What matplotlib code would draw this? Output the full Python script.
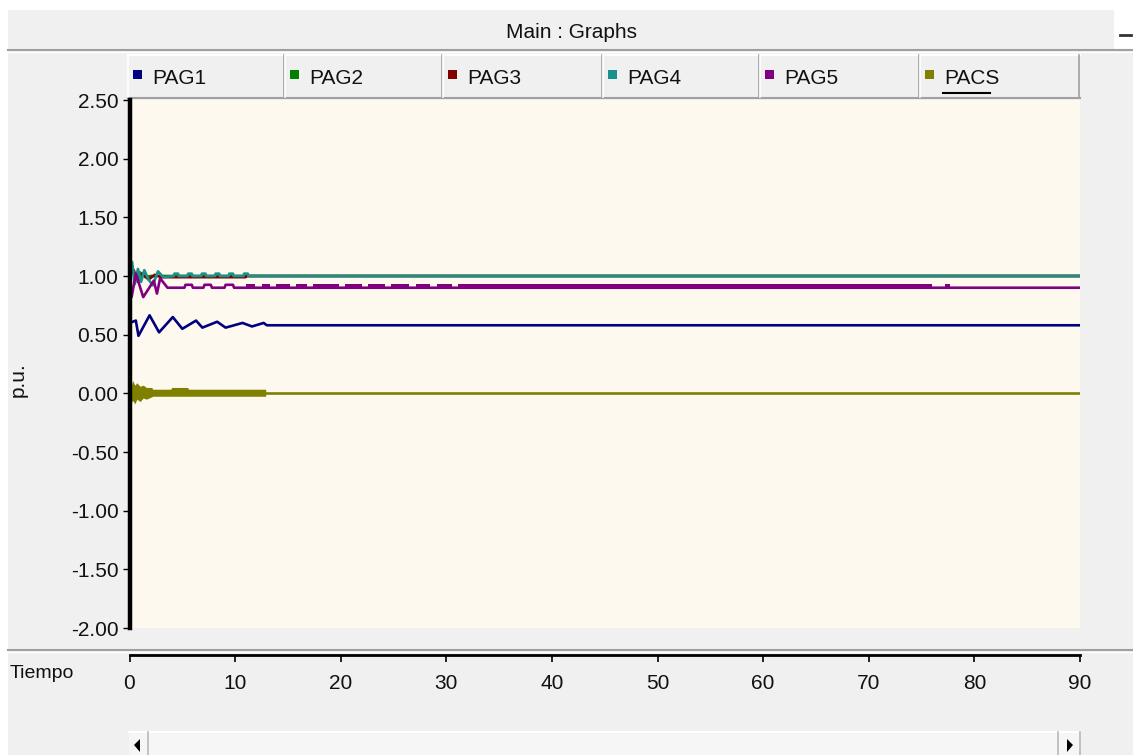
import numpy as np
import matplotlib.pyplot as plt
from matplotlib.patches import Rectangle, Polygon

plt.rcParams['font.family'] = ['Liberation Sans', 'DejaVu Sans']

names = ['PAG1', 'PAG2', 'PAG3', 'PAG4', 'PAG5', 'PACS']
colors = ['#000080', '#008000', '#800000', '#1b918c', '#800080', '#808000']

# series (time in s, value in p.u.)
t_pag1 = [0, 0.6, 0.85, 1.9, 2.8, 4.1, 5.0, 6.3, 6.9, 8.3, 9.1, 10.7, 11.6, 12.7, 13.0, 90]
pag1 = [0.60, 0.62, 0.49, 0.665, 0.52, 0.65, 0.55, 0.62, 0.56, 0.61, 0.56, 0.60, 0.57, 0.60, 0.58, 0.58]

t_pag2 = [0, 0.3, 0.6, 1.0, 1.5, 2.0, 90]
pag2 = [1.0, 1.06, 0.96, 1.03, 0.99, 1.0, 1.0]

t_pag3 = [0, 0.4, 0.8, 1.2, 1.8, 2.4, 3.0, 11.0, 11.1, 90]
pag3 = [1.0, 1.05, 0.95, 1.02, 0.97, 1.01, 0.99, 0.99, 1.0, 1.0]

t_pag4 = [0, 0.25, 0.5, 0.8, 1.1, 1.4, 1.8, 2.2, 2.7, 3.2,
          4.2, 4.25, 4.6, 4.65, 5.5, 5.55, 5.9, 5.95, 6.8, 6.85, 7.2, 7.25,
          8.1, 8.15, 8.5, 8.55, 9.4, 9.45, 9.8, 9.85, 10.8, 10.85, 11.2, 11.25, 90]
pag4 = [1.0, 1.12, 0.93, 1.06, 0.95, 1.05, 0.97, 0.92, 1.04, 0.99,
        1.0, 1.02, 1.02, 1.0, 1.0, 1.02, 1.02, 1.0, 1.0, 1.02, 1.02, 1.0,
        1.0, 1.02, 1.02, 1.0, 1.0, 1.02, 1.02, 1.0, 1.0, 1.02, 1.02, 1.0, 1.0]

t_pag5 = [0, 0.2, 0.6, 1.3, 2.3, 2.6, 2.9, 3.6, 5.2, 5.3, 5.9, 6.0, 7.0, 7.1,
          7.7, 7.8, 9.0, 9.1, 9.8, 9.9, 90]
pag5 = [0.88, 0.82, 1.02, 0.82, 0.96, 0.85, 0.98, 0.90, 0.90, 0.925, 0.925, 0.90, 0.90, 0.925,
        0.925, 0.90, 0.90, 0.925, 0.925, 0.90, 0.90]
# fast ripple intervals of PAG5 (upper level)
pag5_ripple = [(11.0, 11.9), (12.5, 13.3), (13.9, 15.2), (15.8, 16.8), (17.4, 19.8),
               (20.4, 22.0), (22.6, 24.2), (24.8, 26.5), (27.1, 28.5), (29.1, 30.5),
               (31.1, 76.0), (77.2, 77.7)]
pag5_ripple_lo, pag5_ripple_hi = 0.90, 0.928

t_pacs = [0, 90]
pacs = [0.005, 0.005]
# envelope of the PACS oscillation
pacs_env_t = [0, 0.15, 0.3, 0.5, 0.7, 1.0, 1.3, 1.6, 2.1, 2.2, 3.9, 4.0, 5.5, 5.6, 12.9]
pacs_env_hi = [0.10, 0.06, 0.11, 0.07, 0.09, 0.06, 0.07, 0.05, 0.05, 0.035, 0.035, 0.05, 0.05, 0.035, 0.035]
pacs_env_lo = [-0.02, -0.08, -0.06, -0.09, -0.05, -0.07, -0.04, -0.05, -0.03, -0.025, -0.025,
               -0.025, -0.025, -0.025, -0.025]

yticks = [2.5, 2.0, 1.5, 1.0, 0.5, 0.0, -0.5, -1.0, -1.5, -2.0]
xticks = [0, 10, 20, 30, 40, 50, 60, 70, 80, 90]

W, H = 1133, 755
GRAY = '#f0f0f0'
CREAM = '#fef9ef'
FS = 15
INK = '#111111'

fig = plt.figure(figsize=(W / 100, H / 100), dpi=100, facecolor='white')

# window chrome drawn in pixel coordinates
bg = fig.add_axes([0, 0, 1, 1], zorder=0)
bg.set_xlim(0, W)
bg.set_ylim(H, 0)
bg.axis('off')
bg.add_patch(Rectangle((8, 10), W - 8, H - 10, fc=GRAY, ec='none'))
bg.add_patch(Rectangle((1114, 0), W - 1114, 50, fc='white', ec='none'))
bg.plot([1120, 1131], [35, 35], color='#333333', lw=2)
bg.plot([8, W], [50, 50], color='#a0a0a0', lw=1.5)
bg.plot([8, W], [51.5, 51.5], color='white', lw=1)
bg.text(572, 32, 'Main : Graphs', ha='center', va='center', fontsize=FS, color=INK)

# legend header cells
edges = [128, 285, 443, 603, 760, 920, 1080]
bg.plot([128, 1080], [55, 55], color='white', lw=1.5)
bg.plot([128, 1080], [97.5, 97.5], color='#a0a0a0', lw=1.5)
for i, (name, c) in enumerate(zip(names, colors)):
    x0 = edges[i]
    bg.plot([x0, x0], [55, 97], color='white', lw=1.2)
    bg.plot([edges[i + 1] - 1, edges[i + 1] - 1], [55, 97], color='#a0a0a0', lw=1.2)
    bg.add_patch(Rectangle((x0 + 5, 70), 9, 9, fc=c, ec='none'))
    bg.text(x0 + 24, 78, name, ha='left', va='center', fontsize=FS, color=INK)
    if name == 'PACS':
        bg.plot([x0 + 23, x0 + 70], [93, 93], color='black', lw=1.5)

# separator above the time axis
bg.plot([8, W], [650, 650], color='#a0a0a0', lw=1.5)
bg.plot([8, W], [651.5, 651.5], color='white', lw=1)
bg.text(10, 673, 'Tiempo', ha='left', va='center', fontsize=FS - 1, color=INK)
bg.text(18, 380, 'p.u.', ha='center', va='center', rotation=90, fontsize=FS, color=INK)

# scroll bar
bg.add_patch(Rectangle((129, 731), 951, 30, fc='#f6f6f6', ec='none'))
bg.plot([129, 1080], [731.5, 731.5], color='white', lw=1.5)
for xb in (148, 1058, 1080):
    bg.plot([xb, xb], [732, H], color='#b8b8b8', lw=1.2)
bg.add_patch(Polygon([[134, 745], [140, 739], [140, 752]], closed=True, fc='black', ec='none'))
bg.add_patch(Polygon([[1073, 745], [1067, 739], [1067, 752]], closed=True, fc='black', ec='none'))

# main plot
ax = fig.add_axes([129.5 / W, 1 - 628 / H, (1080 - 129.5) / W, (628 - 100) / H], zorder=1)
ax.set_facecolor(CREAM)
ax.set_xlim(0, 90)
ax.set_ylim(-2.0, 2.5)

lw = 1.9
ax.plot(t_pag2, pag2, color=colors[1], lw=lw)
ax.plot(t_pag3, pag3, color=colors[2], lw=lw)
ax.plot(t_pag4, pag4, color=colors[3], lw=lw)
ax.plot(t_pag5, pag5, color=colors[4], lw=lw)
for a, b in pag5_ripple:
    ax.fill_between([a, b], pag5_ripple_lo, pag5_ripple_hi, color=colors[4], lw=0)
ax.plot(t_pag1, pag1, color=colors[0], lw=lw)
ax.fill_between(pacs_env_t, pacs_env_lo, pacs_env_hi, color=colors[5], lw=0)
ax.plot(t_pacs, pacs, color=colors[5], lw=lw)

for s in ('top', 'right', 'bottom'):
    ax.spines[s].set_visible(False)
ax.spines['left'].set_linewidth(3.2)
ax.spines['left'].set_color('black')
ax.set_xticks([])
ax.set_yticks(yticks)
ax.set_yticklabels([f'{v:.2f}' for v in yticks])
ax.tick_params(axis='y', direction='out', length=5, width=1, color='black',
               labelsize=FS, labelcolor=INK, pad=3)

# time axis below the plot
axx = fig.add_axes([129.5 / W, 1 - 655 / H, (1080 - 129.5) / W, 0.0001], zorder=1)
axx.set_xlim(0, 90)
axx.patch.set_visible(False)
for s in ('top', 'right', 'left'):
    axx.spines[s].set_visible(False)
axx.spines['bottom'].set_linewidth(2)
axx.set_yticks([])
axx.set_xticks(xticks)
axx.tick_params(axis='x', direction='out', length=5, width=1.2, color='black',
                labelsize=FS, labelcolor=INK, pad=9)

fig.savefig('out.png', dpi=100, facecolor=fig.get_facecolor())
